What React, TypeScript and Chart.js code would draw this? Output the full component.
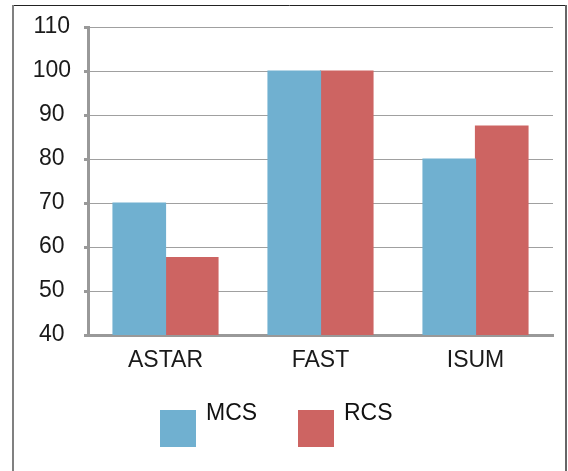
import React, { useEffect, useRef } from "react";
import { Chart, registerables } from "chart.js";

Chart.register(...registerables);

const categories = ["ASTAR", "FAST", "ISUM"];
const seriesNames = ["MCS", "RCS"];
const mcsValues = [70, 100, 80];
const rcsValues = [57.6, 100, 87.5];
const yTicks = { min: 40, max: 110, step: 10 };

const BLUE = "#70b0d0";
const RED = "#cd6462";
const FONT = "'Liberation Sans', Arial, sans-serif";

const framePlugin = {
  id: "frame",
  afterDraw(chart: any) {
    const ctx = chart.ctx;
    ctx.save();
    ctx.strokeStyle = "#222";
    ctx.lineWidth = 1;
    ctx.beginPath();
    ctx.moveTo(12, 5.5);
    ctx.lineTo(567, 5.5);
    ctx.stroke();
    ctx.strokeStyle = "#808080";
    ctx.lineWidth = 2;
    ctx.beginPath();
    ctx.moveTo(13, 5);
    ctx.lineTo(13, 471);
    ctx.stroke();
    ctx.strokeStyle = "#666";
    ctx.beginPath();
    ctx.moveTo(566, 5);
    ctx.lineTo(566, 471);
    ctx.stroke();
    ctx.restore();
  },
};

const legendPlugin = {
  id: "customLegend",
  afterDraw(chart: any) {
    const ctx = chart.ctx;
    ctx.save();
    const startX = 160;
    const spacing = 138;
    chart.data.datasets.forEach((ds: any, i: number) => {
      const x = startX + i * spacing;
      ctx.fillStyle = ds.backgroundColor;
      ctx.fillRect(x, 410, 36, 37);
      ctx.fillStyle = "#111";
      ctx.font = `23px ${FONT}`;
      ctx.textBaseline = "alphabetic";
      ctx.textAlign = "left";
      ctx.fillText(ds.label, x + 46, 420);
    });
    ctx.restore();
  },
};

export default function App() {
  const ref = useRef<HTMLCanvasElement>(null);
  useEffect(() => {
    if (!ref.current) return;
    const chart = new Chart(ref.current, {
      type: "bar",
      data: {
        labels: categories,
        datasets: [
          { label: seriesNames[0], data: mcsValues, backgroundColor: BLUE },
          { label: seriesNames[1], data: rcsValues, backgroundColor: RED },
        ],
      },
      options: {
        responsive: false,
        animation: false,
        devicePixelRatio: 1,
        layout: { padding: { left: 0, top: 27, right: 15, bottom: 0 } },
        plugins: { legend: { display: false }, tooltip: { enabled: false } },
        datasets: { bar: { categoryPercentage: 0.677, barPercentage: 1, inflateAmount: 0.6 } },
        scales: {
          x: {
            afterFit: (s: any) => {
              s.height = 136;
            },
            grid: { display: true, drawOnChartArea: false, drawTicks: false, color: "rgba(0,0,0,0)" },
            border: { display: true, color: "#999", width: 3 },
            ticks: { color: "#1a1a1a", font: { family: FONT, size: 23 }, padding: 12 },
          },
          y: {
            min: yTicks.min,
            max: yTicks.max,
            afterFit: (s: any) => {
              s.width = 88;
            },
            grid: { color: "#a0a0a0", lineWidth: 1, tickLength: 4, tickColor: "#999", tickWidth: 3 },
            border: { display: true, color: "#999", width: 3 },
            ticks: {
              stepSize: yTicks.step,
              color: "#1a1a1a",
              font: { family: FONT, size: 23 },
              padding: 13,
              crossAlign: "center",
            },
          },
        },
      },
      plugins: [framePlugin, legendPlugin],
    });
    return () => chart.destroy();
  }, []);
  return (
    <div style={{ position: "fixed", left: 0, top: 0, width: 568, height: 471, background: "#fff" }}>
      <canvas ref={ref} width={568} height={471} style={{ display: "block" }} />
    </div>
  );
}
